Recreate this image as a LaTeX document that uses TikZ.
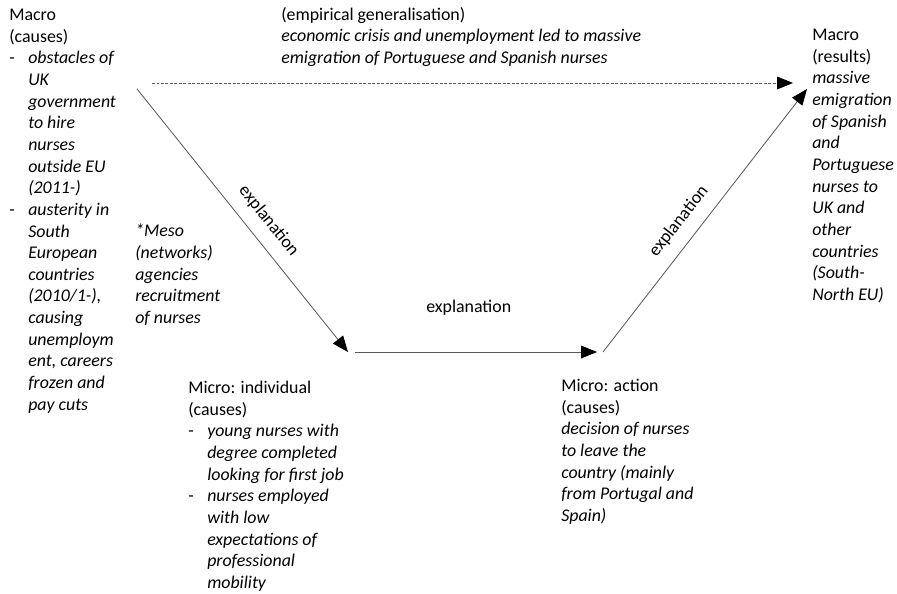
\documentclass[tikz,border=0pt]{standalone}
\usepackage{fontspec}
\setmainfont{Carlito}
\usetikzlibrary{arrows.meta, positioning}
\definecolor{linegrey}{HTML}{5A5A5A}
\newcommand{\lstitem}[1]{\makebox[0.475cm][l]{-}\textit{#1}}
\newcommand{\lstcont}[1]{\hspace*{0.475cm}\textit{#1}}
\tikzset{
  txt/.style = {font = \fontsize{12.7}{15.4}\selectfont, align = left, inner sep = 0pt, anchor = north west, execute at begin node = \strut},
  expl/.style = {font = \fontsize{12.7}{15.4}\selectfont, inner sep = 0pt},
  arr/.style = {draw = linegrey, line width = 0.6pt, -{Triangle[length = 0.4cm, width = 0.32cm, color = black]}}
}
\begin{document}
\begin{tikzpicture}
\useasboundingbox (0,0) rectangle (22.425,-14.85);
% macro causes
\node[txt] (macrocause) at (0.225,-0.22) {Macro\\(causes)\\
\lstitem{obstacles of}\\ \lstcont{UK}\\ \lstcont{government}\\ \lstcont{to hire}\\ \lstcont{nurses}\\ \lstcont{outside EU}\\ \lstcont{(2011-)}\\
\lstitem{austerity in}\\ \lstcont{South}\\ \lstcont{European}\\ \lstcont{countries}\\ \lstcont{(2010/1-),}\\ \lstcont{causing}\\ \lstcont{unemploym}\\ \lstcont{ent, careers}\\ \lstcont{frozen and}\\ \lstcont{pay cuts}};
% empirical generalisation
\node[txt] (empgen) at (7.025,-0.17) {(empirical generalisation)\\
\textit{economic crisis and unemployment led to massive}\\
\textit{emigration of Portuguese and Spanish nurses}};
% meso
\node[txt] (meso) at (3.375,-5.595) {\textit{*Meso}\\ \textit{(networks)}\\ \textit{agencies}\\ \textit{recruitment}\\ \textit{of nurses}};
% micro individual
\node[txt] (microind) at (4.7,-9.52) {Micro: individual\\(causes)\\
\lstitem{young nurses with}\\ \lstcont{degree completed}\\ \lstcont{looking for first job}\\
\lstitem{nurses employed}\\ \lstcont{with low}\\ \lstcont{expectations of}\\ \lstcont{professional}\\ \lstcont{mobility}};
% micro action
\node[txt] (microact) at (14.025,-9.47) {Micro: action\\(causes)\\
\textit{decision of nurses}\\ \textit{to leave the}\\ \textit{country (mainly}\\ \textit{from Portugal and}\\ \textit{Spain)}};
% macro results
\node[txt] (macrores) at (20.3,-0.72) {Macro\\(results)\\
\textit{massive}\\ \textit{emigration}\\ \textit{of Spanish}\\ \textit{and}\\ \textit{Portuguese}\\ \textit{nurses to}\\ \textit{UK and}\\ \textit{other}\\ \textit{countries}\\ \textit{(South-}\\ \textit{North EU)}};

% arrow ends
\coordinate (genstart) at (3.8,-2.075);
\coordinate (genend) at (19.825,-2.075);
\coordinate (downstart) at (3.425,-2.225);
\coordinate (downend) at (8.7,-8.8);
\coordinate (flatstart) at (8.875,-8.8);
\coordinate (flatend) at (14.925,-8.8);
\coordinate (upstart) at (15.075,-8.8);
\coordinate (upend) at (20.175,-2.225);

\draw[arr, dash pattern = on 2pt off 1.2pt] (genstart) -- (genend);
\draw[arr] (downstart) -- node[expl, pos = 0.55, sloped, above = 0.3cm] (explleft) {explanation} (downend);
\draw[arr] (flatstart) -- node[expl, pos = 0.47, above = 0.9cm] (explmid) {explanation} (flatend);
\draw[arr] (upstart) -- node[expl, pos = 0.45, sloped, above = 0.3cm] (explright) {explanation} (upend);
\end{tikzpicture}
\end{document}
